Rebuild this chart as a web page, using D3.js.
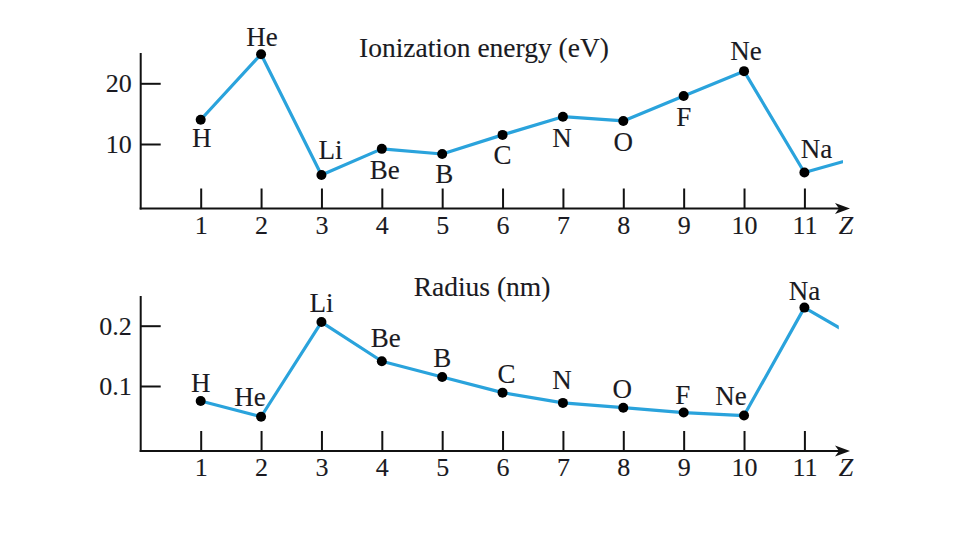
<!DOCTYPE html>
<html>
<head>
<meta charset="utf-8">
<script src="https://cdn.jsdelivr.net/npm/d3@7"></script>
<style>
  body { margin: 0; background: #fff; }
  svg text {
    font-family: "Liberation Serif", "Times New Roman", serif;
    fill: #1a1a22;
    stroke: #1a1a22;
    stroke-width: 0.12px;
  }
</style>
</head>
<body>
<svg id="chart" width="960" height="540"></svg>
<script>
// values
const elements = ["H", "He", "Li", "Be", "B", "C", "N", "O", "F", "Ne", "Na"];
const atomicNumbers = [1, 2, 3, 4, 5, 6, 7, 8, 9, 10, 11];
const ionizationEnergy = [14.0, 24.8, 4.9, 9.2, 8.35, 11.5, 14.5, 13.8, 17.9, 22.0, 5.3];
const atomicRadius = [0.075, 0.049, 0.206, 0.141, 0.115, 0.089, 0.072, 0.064, 0.056, 0.051, 0.230];
// Z = 12 follows; the line heads towards it and is cut off
const nextZ = 12;
const ionizationNext = 8.1;
const radiusNext = 0.172;
const energyTicks = [10, 20];
const radiusTicks = [0.1, 0.2];

const svg = d3.select("#chart");
const lineColor = "#2aa3dc";
const axisX = 140.7;

const x = d3.scaleLinear()
  .domain([1, 11])
  .range([200.7, 804.4]);

const panels = [
  {
    title: "Ionization energy (eV)",
    titleX: 484, titleY: 57,
    values: ionizationEnergy, next: ionizationNext,
    ticks: energyTicks, format: d3.format("d"),
    yDomain: [10, 20], yRange: [144, 83.3],
    axisTop: 53, axisY: 208.5, cutZ: 11.64,
    // label centre offsets from each point
    offsets: [[1, 18], [1, -17], [9, -25], [3, 21], [2, 20], [0, 20],
              [-1, 21], [0, 21], [0, 21], [2, -20], [12, -23]]
  },
  {
    title: "Radius (nm)",
    titleX: 482, titleY: 296,
    values: atomicRadius, next: radiusNext,
    ticks: radiusTicks, format: d3.format(".1f"),
    yDomain: [0.1, 0.2], yRange: [386, 325.7],
    axisTop: 296, axisY: 451, cutZ: 11.57,
    offsets: [[0, -18], [-11, -20], [0, -19], [4, -23], [0, -19], [4, -19],
              [-1, -23], [-1, -19], [-1, -17], [-13, -19], [0, -17]]
  }
];

panels.forEach(function (p, idx) {
  let g = svg.append("g");
  let y = d3.scaleLinear().domain(p.yDomain).range(p.yRange);

  // title
  g.append("text")
    .attr("x", p.titleX)
    .attr("y", p.titleY)
    .attr("text-anchor", "middle")
    .attr("font-size", 27.5)
    .text(p.title);

  // vertical axis line
  g.append("line")
    .attr("x1", axisX).attr("x2", axisX)
    .attr("y1", p.axisTop).attr("y2", p.axisY + 1)
    .attr("stroke", "#111")
    .attr("stroke-width", 2);

  let yAxis = d3.axisLeft(y)
    .tickValues(p.ticks)
    .tickFormat(p.format)
    .tickSize(-20)
    .tickPadding(9);
  let yg = g.append("g")
    .attr("transform", "translate(" + axisX + ",0)")
    .call(yAxis);
  yg.select(".domain").remove();
  yg.attr("font-size", 26).attr("font-family", null);
  yg.selectAll("line").attr("stroke", "#111").attr("stroke-width", 2);

  // horizontal axis with arrow head
  let xAxis = d3.axisBottom(x)
    .tickValues(atomicNumbers)
    .tickFormat(d3.format("d"))
    .tickSize(-20)
    .tickPadding(7);
  let xg = g.append("g")
    .attr("transform", "translate(0," + p.axisY + ")")
    .call(xAxis);
  xg.select(".domain").remove();
  xg.attr("font-size", 26).attr("font-family", null);
  xg.selectAll("line").attr("stroke", "#111").attr("stroke-width", 2);

  g.append("line")
    .attr("x1", axisX - 1).attr("x2", 842)
    .attr("y1", p.axisY).attr("y2", p.axisY)
    .attr("stroke", "#111")
    .attr("stroke-width", 2);
  let tipX = 850;
  g.append("path")
    .attr("d", "M" + tipX + "," + p.axisY +
      " L" + (tipX - 15) + "," + (p.axisY - 5.5) +
      " L" + (tipX - 11) + "," + p.axisY +
      " L" + (tipX - 15) + "," + (p.axisY + 5.5) + " Z")
    .attr("fill", "#111");

  g.append("text")
    .attr("x", 846)
    .attr("y", p.axisY + 7)
    .attr("dy", "0.71em")
    .attr("text-anchor", "middle")
    .attr("font-size", 26)
    .attr("font-style", "italic")
    .text("Z");

  // data line, cut short past the last point
  let clipId = "cut" + idx;
  g.append("clipPath")
    .attr("id", clipId)
    .append("rect")
    .attr("x", 0).attr("y", 0)
    .attr("width", x(p.cutZ)).attr("height", 540);

  let pts = atomicNumbers.map(function (z, i) { return [z, p.values[i]]; });
  let linePts = pts.concat([[nextZ, p.next]]);
  let line = d3.line()
    .x(function (d) { return x(d[0]); })
    .y(function (d) { return y(d[1]); });

  g.append("path")
    .datum(linePts)
    .attr("clip-path", "url(#" + clipId + ")")
    .attr("d", line)
    .attr("fill", "none")
    .attr("stroke", lineColor)
    .attr("stroke-width", 3.2)
    .attr("stroke-linejoin", "round");

  g.selectAll("circle.pt")
    .data(pts)
    .join("circle")
    .attr("class", "pt")
    .attr("cx", function (d) { return x(d[0]); })
    .attr("cy", function (d) { return y(d[1]); })
    .attr("r", 5)
    .attr("fill", "#000");

  g.selectAll("text.el")
    .data(pts)
    .join("text")
    .attr("class", "el")
    .attr("x", function (d, i) { return x(d[0]) + p.offsets[i][0]; })
    .attr("y", function (d, i) { return y(d[1]) + p.offsets[i][1]; })
    .attr("dy", "0.33em")
    .attr("text-anchor", "middle")
    .attr("font-size", 27)
    .text(function (d, i) { return elements[i]; });
});
</script>
</body>
</html>
